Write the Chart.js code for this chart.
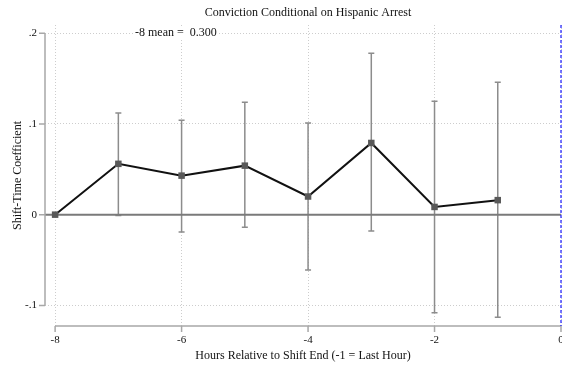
<!DOCTYPE html>
<html>
<head>
<meta charset="utf-8">
<script src="https://cdn.jsdelivr.net/npm/chart.js@4/dist/chart.umd.min.js"></script>
<style>
  html, body { margin: 0; padding: 0; background: #fff; }
  #wrap { width: 562px; height: 367px; }
</style>
</head>
<body>
<div id="wrap"><canvas id="plot"></canvas></div>
<script>
// hours relative to shift end, point estimates and 95% CI ends
var hours = [-8, -7, -6, -5, -4, -3, -2, -1];
var coef  = [0, 0.056, 0.043, 0.054, 0.020, 0.079, 0.0085, 0.016];
var ciHi  = [null, 0.112, 0.104, 0.124, 0.101, 0.178, 0.125, 0.146];
var ciLo  = [null, -0.001, -0.019, -0.014, -0.061, -0.018, -0.108, -0.113];
var xTicks = [-8, -6, -4, -2, 0];
var yTicks = [-0.1, 0, 0.1, 0.2];
var titleText = 'Conviction Conditional on Hispanic Arrest';
var noteText = '-8 mean =  0.300';

var serif = '"Liberation Serif", "DejaVu Serif", serif';

function fmtY(v) {
    if (Math.abs(v) < 1e-9) return '0';
    var s = String(Math.round(v * 10) / 10);
    return s.replace('0.', '.');
}

var extras = {
    id: 'extras',
    beforeDatasetsDraw: function (chart) {
        var ctx = chart.ctx;
        var xs = chart.scales.x, ys = chart.scales.y;
        var area = chart.chartArea;
        ctx.save();

        // error bars
        ctx.strokeStyle = '#8c8c8c';
        ctx.lineWidth = 1.5;
        for (var i = 0; i < hours.length; i++) {
            if (ciHi[i] === null) continue;
            var px = xs.getPixelForValue(hours[i]);
            var top = ys.getPixelForValue(ciHi[i]);
            var bot = ys.getPixelForValue(ciLo[i]);
            ctx.beginPath();
            ctx.moveTo(px, top); ctx.lineTo(px, bot);
            ctx.moveTo(px - 3, top); ctx.lineTo(px + 3, top);
            ctx.moveTo(px - 3, bot); ctx.lineTo(px + 3, bot);
            ctx.stroke();
        }

        // zero reference line
        var y0 = ys.getPixelForValue(0);
        ctx.strokeStyle = '#7a7a7a';
        ctx.lineWidth = 2;
        ctx.beginPath();
        ctx.moveTo(area.left, y0); ctx.lineTo(area.right, y0);
        ctx.stroke();

        // axis lines and ticks
        ctx.strokeStyle = '#a8a8a8';
        ctx.lineWidth = 1.5;
        var ax = area.left;
        ctx.beginPath();
        ctx.moveTo(ax, ys.getPixelForValue(0.2));
        ctx.lineTo(ax, ys.getPixelForValue(-0.1));
        yTicks.forEach(function (v) {
            var p = ys.getPixelForValue(v);
            ctx.moveTo(ax - 6, p); ctx.lineTo(ax, p);
        });
        var by = area.bottom;
        ctx.moveTo(xs.getPixelForValue(-8), by);
        ctx.lineTo(xs.getPixelForValue(0), by);
        xTicks.forEach(function (v) {
            var p = xs.getPixelForValue(v);
            ctx.moveTo(p, by); ctx.lineTo(p, by + 6);
        });
        ctx.stroke();

        // dashed line at shift end
        var xe = xs.getPixelForValue(0);
        ctx.strokeStyle = '#1a1aff';
        ctx.lineWidth = 1.2;
        ctx.setLineDash([3, 2]);
        ctx.beginPath();
        ctx.moveTo(xe, area.top); ctx.lineTo(xe, area.bottom);
        ctx.stroke();
        ctx.setLineDash([]);

        ctx.restore();
    },
    afterDraw: function (chart) {
        var ctx = chart.ctx;
        ctx.save();
        ctx.font = '12px ' + serif;
        ctx.fillStyle = '#111';
        ctx.textBaseline = 'middle';
        ctx.textAlign = 'center';
        ctx.fillText(titleText, 308, 13);

        var yn = chart.scales.y.getPixelForValue(0.2);
        var w = ctx.measureText(noteText).width;
        ctx.fillStyle = '#fff';
        ctx.fillRect(133, yn - 6, w + 4, 12);
        ctx.fillStyle = '#111';
        ctx.textAlign = 'left';
        ctx.fillText(noteText, 135, yn);
        ctx.restore();
    }
};

new Chart(document.getElementById('plot'), {
    type: 'line',
    data: {
        datasets: [{
            data: hours.map(function (h, i) { return { x: h, y: coef[i] }; }),
            borderColor: '#111',
            borderWidth: 2,
            pointStyle: 'rect',
            pointRadius: 4.6,
            pointBackgroundColor: '#595959',
            pointBorderColor: '#595959',
            pointBorderWidth: 0,
            tension: 0
        }]
    },
    options: {
        responsive: true,
        maintainAspectRatio: false,
        animation: false,
        layout: { autoPadding: false, padding: { top: 25, right: 1, left: 0, bottom: 0 } },
        plugins: {
            legend: { display: false },
            tooltip: { enabled: false }
        },
        scales: {
            x: {
                type: 'linear',
                min: -8.16,
                max: 0,
                afterBuildTicks: function (s) { s.ticks = xTicks.map(function (v) { return { value: v }; }); },
                afterFit: function (s) { s.height = 41; s.paddingLeft = 0; s.paddingRight = 0; },
                border: { display: false, dash: [1, 2] },
                grid: { color: '#cdcdcd', lineWidth: 1, drawTicks: false },
                ticks: {
                    padding: 8,
                    maxRotation: 0,
                    color: '#111',
                    font: { family: serif, size: 11 },
                    callback: function (v) { return String(v); }
                },
                title: {
                    display: true,
                    text: 'Hours Relative to Shift End (-1 = Last Hour)',
                    color: '#111',
                    font: { family: serif, size: 12 },
                    padding: { top: 0, bottom: 4 }
                }
            },
            y: {
                min: -0.1227,
                max: 0.209,
                afterBuildTicks: function (s) { s.ticks = yTicks.map(function (v) { return { value: v }; }); },
                afterFit: function (s) { s.width = 45; s.paddingTop = 0; s.paddingBottom = 0; },
                border: { display: false, dash: [1, 2] },
                grid: { color: '#cdcdcd', lineWidth: 1, drawTicks: false },
                ticks: {
                    padding: 8,
                    color: '#111',
                    font: { family: serif, size: 11 },
                    callback: function (v) { return fmtY(v); }
                },
                title: {
                    display: true,
                    text: 'Shift-Time Coefficient',
                    color: '#111',
                    font: { family: serif, size: 12 },
                    padding: { top: 11, bottom: 0 }
                }
            }
        }
    },
    plugins: [extras]
});
</script>
</body>
</html>
